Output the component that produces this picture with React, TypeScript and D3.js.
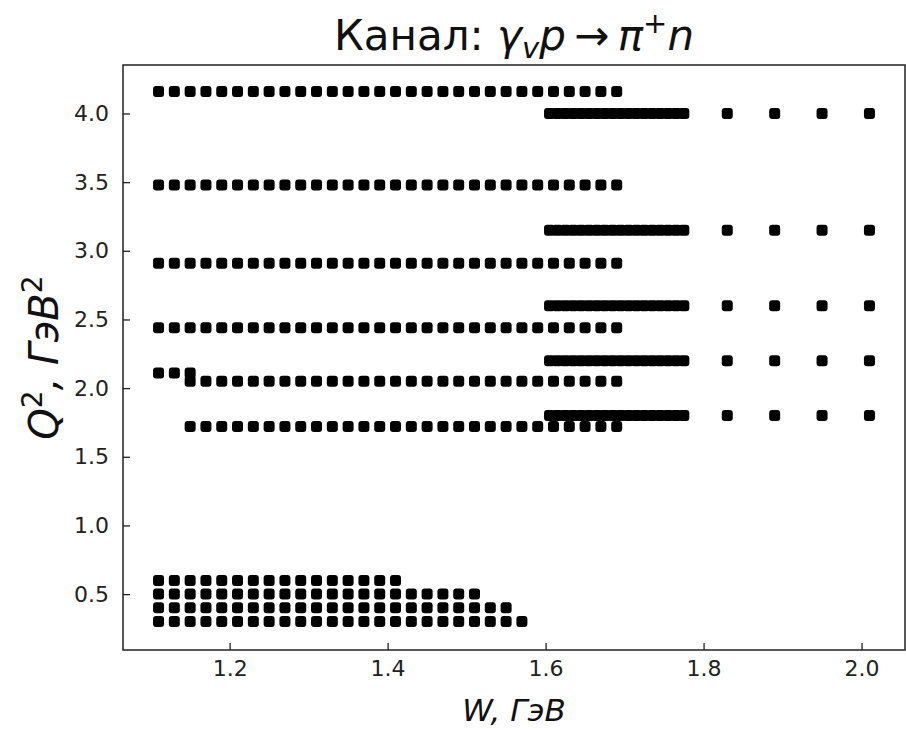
import React, { useEffect, useRef } from 'react';
import * as d3 from 'd3';

// W grid of the 2006/2008 CLAS measurements, GeV
const wGrid = [
  1.11, 1.13, 1.15, 1.17, 1.19, 1.21, 1.23, 1.25, 1.27, 1.29,
  1.31, 1.33, 1.35, 1.37, 1.39, 1.41, 1.43, 1.45, 1.47, 1.49,
  1.51, 1.53, 1.55, 1.57, 1.59, 1.61, 1.63, 1.65, 1.67, 1.69,
];

// low Q2 rows: each goes from 1.11 up to its own max W
const lowQ2 = [0.3, 0.4, 0.5, 0.6];
const lowWMax = [1.57, 1.55, 1.51, 1.41];

// medium Q2 rows, all end at 1.69
const midQ2 = [1.72, 2.05, 2.44, 2.91, 3.48, 4.16];
const midWMin = [1.15, 1.15, 1.11, 1.11, 1.11, 1.11];
const midWMax = 1.69;

// few extra points just above the 2.05 row
const extraQ2 = 2.11;
const extraW = [1.11, 1.13, 1.15];

// high W rows
const highQ2 = [1.8, 2.2, 2.6, 3.15, 4.0];
const highW = [
  1.605, 1.615, 1.625, 1.635, 1.645, 1.655, 1.665, 1.675, 1.685,
  1.695, 1.705, 1.715, 1.725, 1.735, 1.745, 1.755, 1.765, 1.775,
  1.83, 1.89, 1.95, 2.01,
];

const xTicks = [1.2, 1.4, 1.6, 1.8, 2.0];
const yTicks = [0.5, 1.0, 1.5, 2.0, 2.5, 3.0, 3.5, 4.0];

const FONT = '"DejaVu Sans", sans-serif';

const Chart = () => {
  const svgRef = useRef(null);

  useEffect(() => {
    const width = 906;
    const height = 729;
    const margin = { top: 65, right: 1, bottom: 79, left: 123 };

    const points = [];
    lowQ2.forEach((q, i) => {
      wGrid.filter((w) => w <= lowWMax[i] + 1e-9).forEach((w) => points.push({ w, q }));
    });
    midQ2.forEach((q, i) => {
      wGrid
        .filter((w) => w >= midWMin[i] - 1e-9 && w <= midWMax + 1e-9)
        .forEach((w) => points.push({ w, q }));
    });
    extraW.forEach((w) => points.push({ w, q: extraQ2 }));
    highQ2.forEach((q) => {
      highW.forEach((w) => points.push({ w, q }));
    });

    const svg = d3.select(svgRef.current);
    svg.selectAll('*').remove();

    const x = d3
      .scaleLinear()
      .domain([1.065, 2.055])
      .range([margin.left, width - margin.right]);
    const y = d3
      .scaleLinear()
      .domain([0.093, 4.353])
      .range([height - margin.bottom, margin.top]);

    svg.append('rect').attr('width', width).attr('height', height).attr('fill', '#fff');

    // markers
    const s = 11;
    svg
      .append('g')
      .selectAll('rect')
      .data(points)
      .join('rect')
      .attr('x', (d) => x(d.w) - s / 2)
      .attr('y', (d) => y(d.q) - s / 2)
      .attr('width', s)
      .attr('height', s)
      .attr('rx', 3)
      .attr('fill', '#000');

    // axes, ticks pointing inside
    const xAxis = svg
      .append('g')
      .attr('transform', `translate(0,${height - margin.bottom})`)
      .call(
        d3.axisBottom(x).tickValues(xTicks).tickFormat(d3.format('.1f')).tickSize(-7).tickSizeOuter(0).tickPadding(10)
      );
    const yAxis = svg
      .append('g')
      .attr('transform', `translate(${margin.left},0)`)
      .call(
        d3.axisLeft(y).tickValues(yTicks).tickFormat(d3.format('.1f')).tickSize(-7).tickSizeOuter(0).tickPadding(14)
      );
    [xAxis, yAxis].forEach((a) => {
      a.select('.domain').remove();
      a.selectAll('line').attr('stroke', '#222').attr('stroke-width', 1.3);
      a.selectAll('text')
        .attr('font-family', FONT)
        .attr('font-size', 22)
        .attr('fill', '#222');
    });

    // frame
    svg
      .append('rect')
      .attr('x', margin.left)
      .attr('y', margin.top)
      .attr('width', width - margin.left - margin.right)
      .attr('height', height - margin.top - margin.bottom)
      .attr('fill', 'none')
      .attr('stroke', '#222')
      .attr('stroke-width', 1.5);

    const cx = (margin.left + width - margin.right) / 2;

    // title
    const title = svg
      .append('text')
      .attr('x', cx)
      .attr('y', 50)
      .attr('text-anchor', 'middle')
      .attr('font-family', FONT)
      .attr('font-size', 42)
      .attr('fill', '#111');
    title.append('tspan').text('Канал: ');
    title.append('tspan').attr('font-style', 'italic').text('γ');
    title.append('tspan').attr('font-style', 'italic').attr('font-size', 29).attr('dy', 8).text('v');
    title.append('tspan').attr('font-style', 'italic').attr('dy', -8).text('p');
    title.append('tspan').text('\u2009→\u2009');
    title.append('tspan').attr('font-style', 'italic').text('π');
    title.append('tspan').attr('font-size', 29).attr('dy', -17).text('+');
    title.append('tspan').attr('font-style', 'italic').attr('dy', 17).text('n');

    // x label
    svg
      .append('text')
      .attr('x', cx)
      .attr('y', 721)
      .attr('text-anchor', 'middle')
      .attr('font-family', FONT)
      .attr('font-size', 31)
      .attr('font-style', 'italic')
      .attr('fill', '#111')
      .text('W, ГэВ');

    // y label
    const yl = svg
      .append('text')
      .attr('transform', `translate(58,${(margin.top + height - margin.bottom) / 2}) rotate(-90)`)
      .attr('text-anchor', 'middle')
      .attr('font-family', FONT)
      .attr('font-size', 40)
      .attr('font-style', 'italic')
      .attr('fill', '#111');
    yl.append('tspan').text('Q');
    yl.append('tspan').attr('font-style', 'normal').attr('font-size', 28).attr('dy', -16).text('2');
    yl.append('tspan').attr('dy', 16).text(', ГэВ');
    yl.append('tspan').attr('font-style', 'normal').attr('font-size', 28).attr('dy', -16).text('2');
  }, []);

  return <svg ref={svgRef} width={906} height={729} style={{ position: 'absolute', left: 0, top: 0 }}></svg>;
};

export default function App() {
  return <Chart />;
}
